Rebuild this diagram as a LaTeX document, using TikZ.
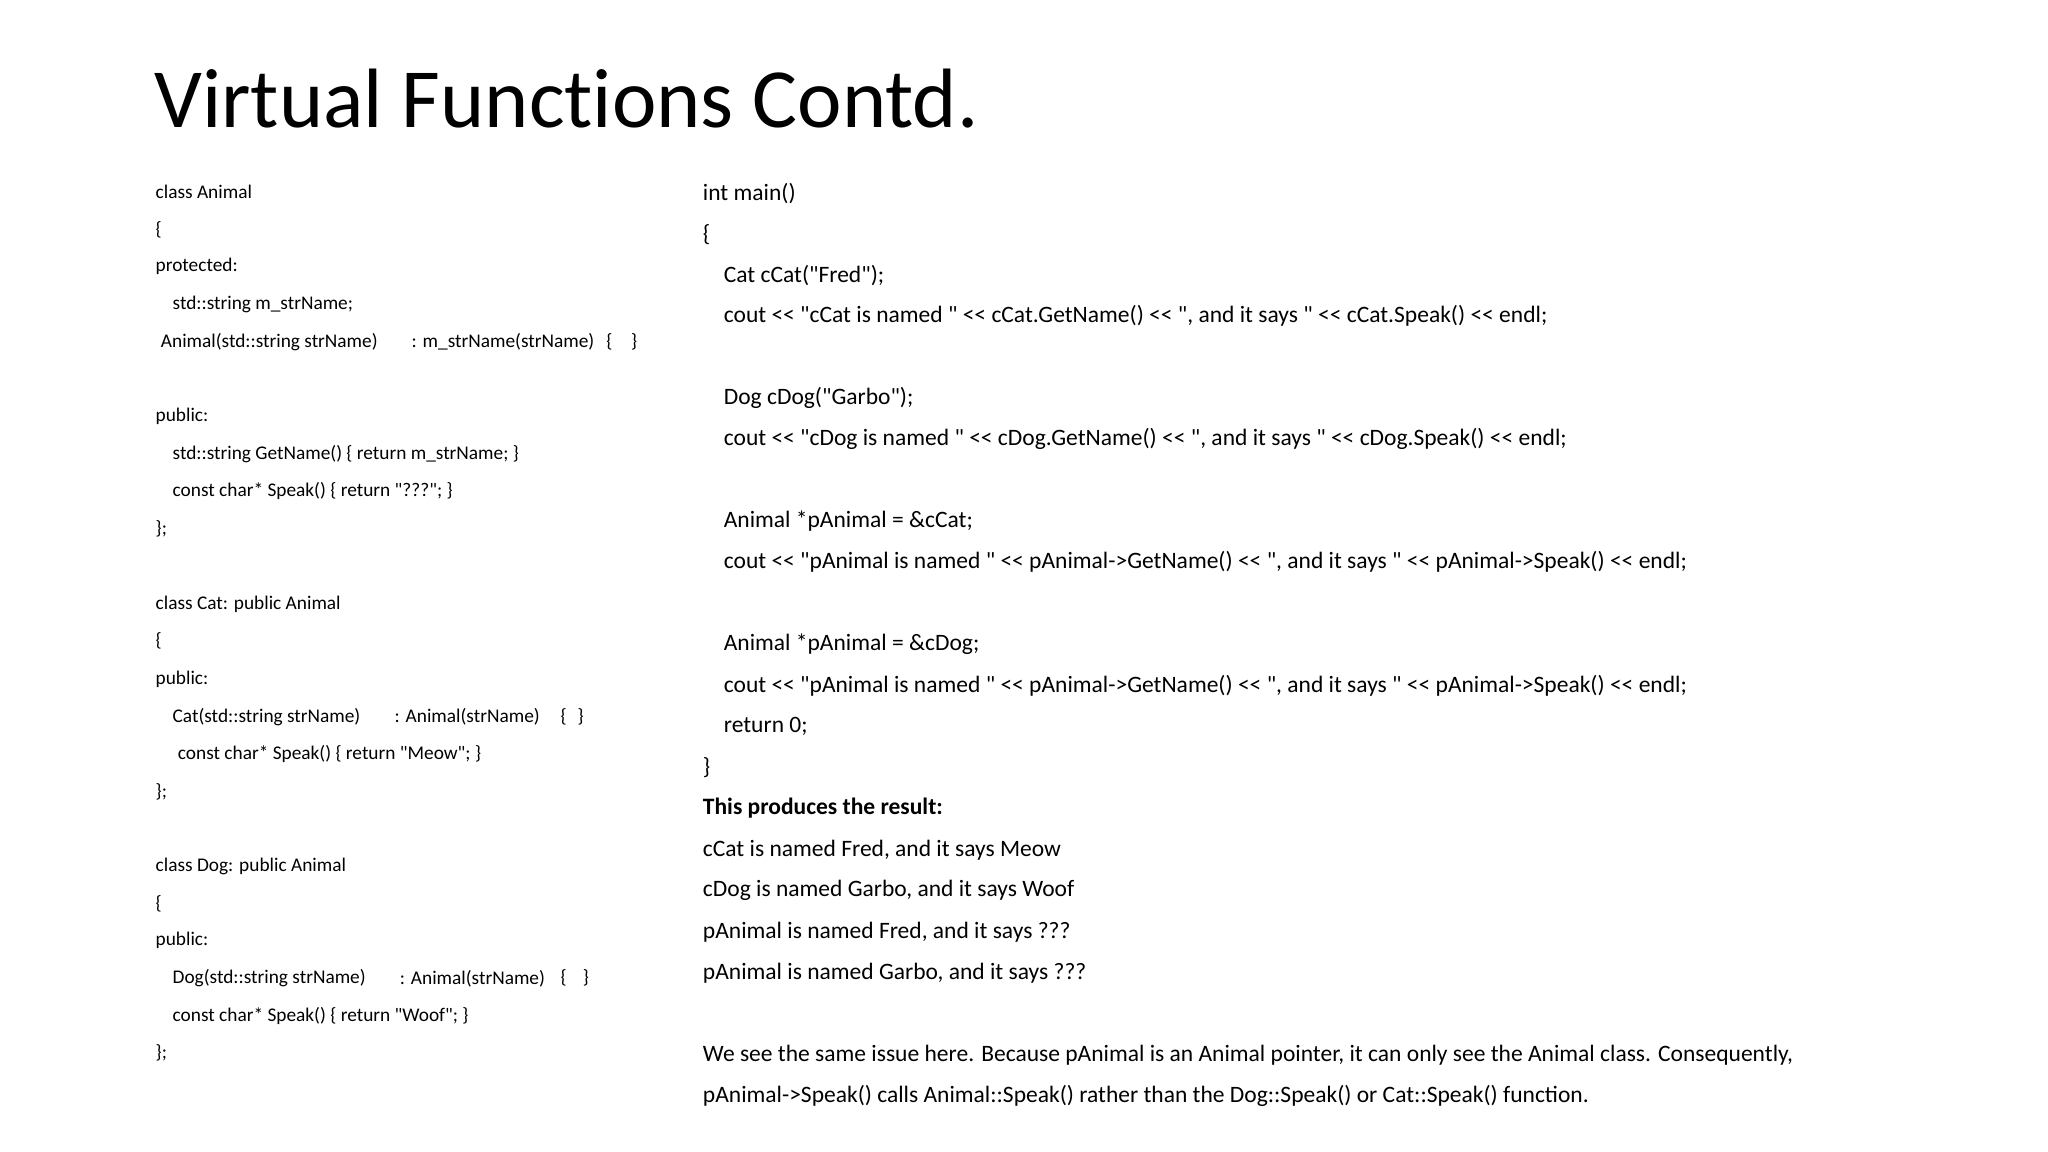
\documentclass[tikz,border=0pt]{standalone}
\usepackage{fontspec}
\newfontfamily\cf{Carlito}
\newfontfamily\cft{Carlito}[Ligatures=NoCommon]
\begin{document}
\begin{tikzpicture}[x=1pt,y=-1pt,
  lc/.style={anchor=west,inner sep=0pt,font=\cf\fontsize{14.8}{16}\selectfont},
  rc/.style={anchor=west,inner sep=0pt,font=\cf\fontsize{18}{20}\selectfont}]
\useasboundingbox (0,0) rectangle (1568,882);
\node[anchor=base west,inner sep=0pt,font=\cft\fontsize{64.5}{70}\selectfont] (title) at (118,98) {Virtual Functions Contd.};
% left code
\node[lc] (l1) at (119,147) {class Animal};
\node[lc] (l2) at (119,176) {\{};
\node[lc] (l3) at (119,204) {protected:};
\node[lc] (l4) at (132,233) {std::string m\_strName;};
\node[lc] (l5a) at (123,262) {Animal(std::string strName)};
\node[lc] (l5b) at (315,262) {: m\_strName(strName)};
\node[lc] (l5c) at (464,262) {\{};
\node[lc] (l5d) at (483,262) {\}};
\node[lc] (l6) at (119,319) {public:};
\node[lc] (l7) at (132,348) {std::string GetName() \{ return m\_strName; \}};
\node[lc] (l8) at (132,376) {const char* Speak() \{ return "???"; \}};
\node[lc] (l9) at (119,405) {\};};
\node[lc] (c1) at (119,463) {class Cat: public Animal};
\node[lc] (c2) at (119,491) {\{};
\node[lc] (c3) at (119,520) {public:};
\node[lc] (c4a) at (132,549) {Cat(std::string strName)};
\node[lc] (c4b) at (302,549) {: Animal(strName)};
\node[lc] (c4c) at (429,549) {\{};
\node[lc] (c4d) at (442,549) {\}};
\node[lc] (c5) at (136,577) {const char* Speak() \{ return "Meow"; \}};
\node[lc] (c6) at (119,606) {\};};
\node[lc] (d1) at (119,663) {class Dog: public Animal};
\node[lc] (d2) at (119,692) {\{};
\node[lc] (d3) at (119,720) {public:};
\node[lc] (d4a) at (132,749) {Dog(std::string strName)};
\node[lc] (d4b) at (306,749) {: Animal(strName)};
\node[lc] (d4c) at (429,749) {\{};
\node[lc] (d4d) at (446,749) {\}};
\node[lc] (d5) at (132,778) {const char* Speak() \{ return "Woof"; \}};
\node[lc] (d6) at (119,806) {\};};
% right code
\node[rc] (r1) at (538,148) {int main()};
\node[rc] (r2) at (538,180) {\{};
\node[rc] (r3) at (554,211) {Cat cCat("Fred");};
\node[rc] (r4) at (554,242) {cout << "cCat is named " << cCat.GetName() << ", and it says " << cCat.Speak() << endl;};
\node[rc] (r5) at (554,305) {Dog cDog("Garbo");};
\node[rc] (r6) at (554,336) {cout << "cDog is named " << cDog.GetName() << ", and it says " << cDog.Speak() << endl;};
\node[rc] (r7) at (554,399) {Animal *pAnimal = \&cCat;};
\node[rc] (r8) at (554,430) {cout << "pAnimal is named " << pAnimal->GetName() << ", and it says " << pAnimal->Speak() << endl;};
\node[rc] (r9) at (554,493) {Animal *pAnimal = \&cDog;};
\node[rc] (r10) at (554,525) {cout << "pAnimal is named " << pAnimal->GetName() << ", and it says " << pAnimal->Speak() << endl;};
\node[rc] (r11) at (554,556) {return 0;};
\node[rc] (r12) at (538,588) {\}};
\node[rc,font=\cf\bfseries\fontsize{18}{20}\selectfont] (r13) at (538,619) {This produces the result:};
\node[rc] (o1) at (538,651) {cCat is named Fred, and it says Meow};
\node[rc] (o2) at (538,682) {cDog is named Garbo, and it says Woof};
\node[rc] (o3) at (538,714) {pAnimal is named Fred, and it says ???};
\node[rc] (o4) at (538,745) {pAnimal is named Garbo, and it says ???};
\node[rc] (p1) at (538,808) {We see the same issue here. Because pAnimal is an Animal pointer, it can only see the Animal class. Consequently,};
\node[rc] (p2) at (538,839) {pAnimal->Speak() calls Animal::Speak() rather than the Dog::Speak() or Cat::Speak() function.};
\end{tikzpicture}
\end{document}
